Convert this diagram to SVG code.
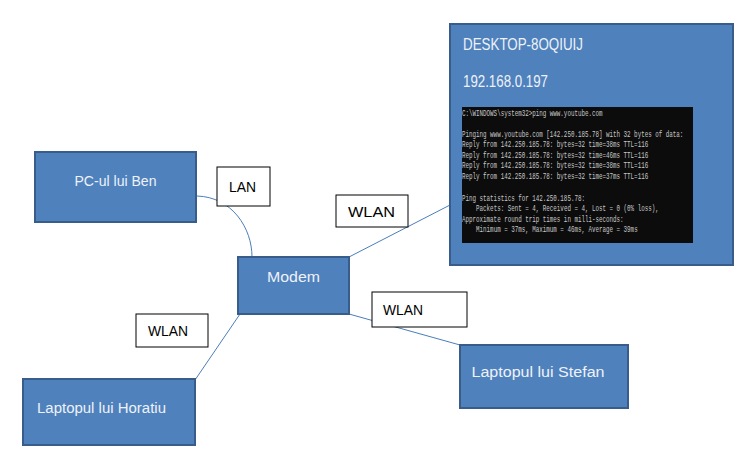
<svg xmlns="http://www.w3.org/2000/svg" width="748" height="467" viewBox="0 0 748 467">
<style>
.node{fill:#4f81bd;stroke:#385d8a;stroke-width:2}
.lbl{fill:#fff;stroke:#000;stroke-width:1}
.nt{font-family:"Liberation Sans",Arial,sans-serif;font-size:14px;fill:#eef2f8}
.lt{font-family:"Liberation Sans",Arial,sans-serif;font-size:14px;fill:#000}
.con{fill:none;stroke:#4a7ebb;stroke-width:1}
.cmd{font-family:"Liberation Mono",monospace;font-size:9px;fill:#c8c8c8}
</style>
<rect width="748" height="467" fill="#fff"/>
<g id="connectors">
<path class="con" d="M197,196 C232,197 252,228 252,257"/>
<line class="con" x1="349" y1="257" x2="450" y2="205"/>
<line class="con" x1="349" y1="314" x2="460" y2="345"/>
<line class="con" x1="240" y1="314" x2="195" y2="380"/>
</g>
<g id="desktop">
<rect class="node" x="450" y="24" width="283" height="241"/>
<text x="463" y="50" font-family="Liberation Sans,Arial,sans-serif" font-size="16" fill="#eef2f8" textLength="120" lengthAdjust="spacingAndGlyphs">DESKTOP-8OQIUIJ</text>
<text x="463" y="87" font-family="Liberation Sans,Arial,sans-serif" font-size="16" fill="#eef2f8" textLength="85" lengthAdjust="spacingAndGlyphs">192.168.0.197</text>
<rect x="462" y="107" width="231" height="136" fill="#0c0c0c"/>
<g transform="translate(462,0) scale(0.652,1)">
<text class="cmd" x="0" y="116">C:\WINDOWS\system32&gt;ping www.youtube.com</text>
<text class="cmd" x="0" y="137">Pinging www.youtube.com [142.250.185.78] with 32 bytes of data:</text>
<text class="cmd" x="0" y="147.5">Reply from 142.250.185.78: bytes=32 time=38ms TTL=116</text>
<text class="cmd" x="0" y="158">Reply from 142.250.185.78: bytes=32 time=46ms TTL=116</text>
<text class="cmd" x="0" y="168.5">Reply from 142.250.185.78: bytes=32 time=38ms TTL=116</text>
<text class="cmd" x="0" y="179">Reply from 142.250.185.78: bytes=32 time=37ms TTL=116</text>
<text class="cmd" x="0" y="201">Ping statistics for 142.250.185.78:</text>
<text class="cmd" x="21.6" y="211.5">Packets: Sent = 4, Received = 4, Lost = 0 (0% loss),</text>
<text class="cmd" x="0" y="222">Approximate round trip times in milli-seconds:</text>
<text class="cmd" x="21.6" y="232.5">Minimum = 37ms, Maximum = 46ms, Average = 39ms</text>
</g>
</g>
<g id="pc-ben">
<rect class="node" x="35" y="152" width="161" height="70"/>
<text class="nt" x="115.5" y="186" text-anchor="middle" textLength="82" lengthAdjust="spacingAndGlyphs">PC-ul lui Ben</text>
</g>
<g id="modem">
<rect class="node" x="238" y="257" width="111" height="57"/>
<text class="nt" x="293.5" y="282" text-anchor="middle" textLength="53" lengthAdjust="spacingAndGlyphs">Modem</text>
</g>
<g id="laptop-horatiu">
<rect class="node" x="23" y="379" width="172" height="66"/>
<text class="nt" x="37" y="413" textLength="129" lengthAdjust="spacingAndGlyphs">Laptopul lui Horatiu</text>
</g>
<g id="laptop-stefan">
<rect class="node" x="460" y="345" width="168" height="63"/>
<text class="nt" x="538" y="377" text-anchor="middle" textLength="133" lengthAdjust="spacingAndGlyphs">Laptopul lui Stefan</text>
</g>
<g id="label-lan">
<rect class="lbl" x="217" y="167" width="53" height="39"/>
<text class="lt" x="229" y="192" textLength="27" lengthAdjust="spacingAndGlyphs">LAN</text>
</g>
<g id="label-wlan-desktop">
<rect class="lbl" x="336" y="195" width="72" height="32"/>
<text class="lt" x="348" y="217" textLength="47" lengthAdjust="spacingAndGlyphs">WLAN</text>
</g>
<g id="label-wlan-stefan">
<rect class="lbl" x="372" y="292" width="95" height="35"/>
<text class="lt" x="383" y="315" textLength="40" lengthAdjust="spacingAndGlyphs">WLAN</text>
</g>
<g id="label-wlan-horatiu">
<rect class="lbl" x="136" y="314" width="72" height="33"/>
<text class="lt" x="148" y="336" textLength="40" lengthAdjust="spacingAndGlyphs">WLAN</text>
</g>
</svg>
